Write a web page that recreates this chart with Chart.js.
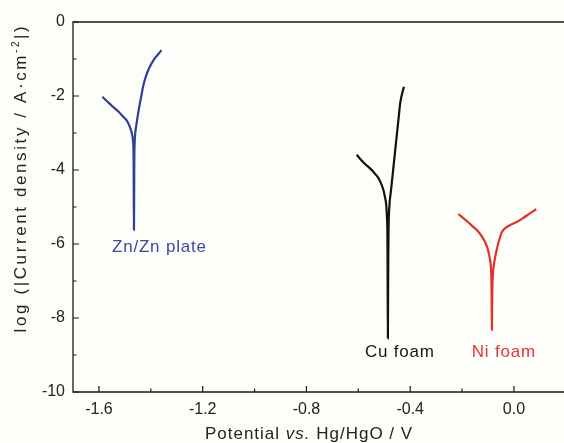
<!DOCTYPE html>
<html>
<head>
<meta charset="utf-8">
<script src="https://cdn.jsdelivr.net/npm/chart.js@4.4.1/dist/chart.umd.min.js"></script>
<style>
  html, body { margin: 0; padding: 0; background: #fdfdf9; }
  #wrap { width: 564px; height: 443px; }
</style>
</head>
<body>
<div id="wrap"><canvas id="tafel"></canvas></div>
<script>
// Tafel curves, potential (V vs Hg/HgO) and log|j|
const znX = [-1.587, -1.575, -1.560, -1.546, -1.525, -1.505, -1.494, -1.484, -1.475, -1.470, -1.467, -1.466, -1.465, -1.464, -1.463, -1.460, -1.455, -1.449, -1.442, -1.436, -1.430, -1.418, -1.404, -1.385, -1.370, -1.359];
const znY = [-2.02, -2.10, -2.20, -2.29, -2.42, -2.57, -2.65, -2.78, -2.96, -3.12, -3.37, -4.20, -5.62, -4.20, -3.40, -3.00, -2.75, -2.47, -2.20, -1.98, -1.75, -1.45, -1.21, -0.98, -0.86, -0.76];

const cuX = [-0.606, -0.590, -0.572, -0.556, -0.542, -0.526, -0.515, -0.505, -0.498, -0.493, -0.490, -0.488, -0.487, -0.486, -0.485, -0.483, -0.479, -0.474, -0.468, -0.462, -0.456, -0.450, -0.444, -0.439, -0.434, -0.429, -0.424];
const cuY = [-3.59, -3.72, -3.85, -3.95, -4.05, -4.18, -4.32, -4.50, -4.70, -4.90, -5.20, -5.60, -7.00, -8.55, -7.00, -5.40, -4.85, -4.55, -4.15, -3.75, -3.35, -2.95, -2.55, -2.22, -2.02, -1.88, -1.75];

const niX = [-0.214, -0.195, -0.175, -0.158, -0.143, -0.128, -0.115, -0.104, -0.096, -0.090, -0.087, -0.086, -0.085, -0.084, -0.082, -0.078, -0.072, -0.064, -0.055, -0.046, -0.030, -0.010, 0.012, 0.035, 0.060, 0.086];
const niY = [-5.19, -5.30, -5.42, -5.53, -5.62, -5.75, -5.90, -6.07, -6.28, -6.52, -6.90, -7.50, -8.32, -7.50, -6.90, -6.60, -6.34, -6.08, -5.85, -5.67, -5.55, -5.47, -5.40, -5.30, -5.18, -5.06];

const seriesNames = ['Zn/Zn plate', 'Cu foam', 'Ni foam'];

// axis ticks
const xMajor = [-1.6, -1.2, -0.8, -0.4, 0.0];
const xMinor = [-1.4, -1.0, -0.6, -0.2];
const yMajor = [0, -2, -4, -6, -8, -10];
const yMinor = [-1, -3, -5, -7, -9];

// where the curve names sit (data units)
const labelAt = [[-1.367, -6.1], [-0.44, -8.92], [-0.039, -8.92]];

const colors = ['#2f3f98', '#111111', '#e2302b'];
const labelColors = ['#3b4a9c', '#161616', '#e4363a'];
const FONT = '"Liberation Sans", Arial, sans-serif';
const TEXT = '#222222';

const toPts = (xs, ys) => xs.map((x, i) => ({ x: x, y: ys[i] }));

// frame, inward ticks, axis titles and curve names
const framePlugin = {
    id: 'frame',
    afterDraw(chart) {
        const { ctx, chartArea: a, scales: { x, y } } = chart;
        ctx.save();
        ctx.strokeStyle = '#1a1a1a';
        ctx.lineWidth = 1.3;
        ctx.beginPath();
        ctx.moveTo(a.right + 2, a.top); ctx.lineTo(a.left, a.top);
        ctx.lineTo(a.left, a.bottom); ctx.lineTo(a.right + 2, a.bottom);
        ctx.stroke();

        ctx.lineWidth = 1.2;
        ctx.beginPath();
        xMajor.concat(xMinor).forEach(v => {
            const px = x.getPixelForValue(v);
            const len = xMajor.includes(v) ? 6 : 3.5;
            ctx.moveTo(px, a.bottom); ctx.lineTo(px, a.bottom - len);
        });
        yMajor.concat(yMinor).forEach(v => {
            const py = y.getPixelForValue(v);
            const len = yMajor.includes(v) ? 6 : 3.5;
            ctx.moveTo(a.left, py); ctx.lineTo(a.left + len, py);
        });
        ctx.stroke();

        // x title with italic "vs."
        ctx.fillStyle = TEXT;
        ctx.textBaseline = 'middle';
        ctx.textAlign = 'left';
        ctx.letterSpacing = '1px';
        const parts = [['Potential ', 'normal'], ['vs.', 'italic'], [' Hg/HgO / V', 'normal']];
        let total = 0;
        parts.forEach(p => { ctx.font = p[1] + ' 17px ' + FONT; total += ctx.measureText(p[0]).width; });
        let cx = x.getPixelForValue(-0.79) - total / 2;
        parts.forEach(p => {
            ctx.font = p[1] + ' 17px ' + FONT;
            ctx.fillText(p[0], cx, 434);
            cx += ctx.measureText(p[0]).width;
        });

        // y title with superscript
        ctx.save();
        ctx.translate(21, 178);
        ctx.rotate(-Math.PI / 2);
        ctx.letterSpacing = '2.6px';
        const main1 = 'log (|Current density / A\u00b7cm';
        const sup = '-2';
        const main2 = '|)';
        ctx.font = '17px ' + FONT;
        const w1 = ctx.measureText(main1).width, w3 = ctx.measureText(main2).width;
        ctx.font = '10px ' + FONT;
        const w2 = ctx.measureText(sup).width;
        let sx = -(w1 + w2 + w3) / 2;
        ctx.font = '17px ' + FONT;
        ctx.fillText(main1, sx, 0); sx += w1;
        ctx.font = '10px ' + FONT;
        ctx.fillText(sup, sx, -5); sx += w2;
        ctx.font = '17px ' + FONT;
        ctx.fillText(main2, sx, 0);
        ctx.restore();

        // curve names
        ctx.font = '17px ' + FONT;
        ctx.letterSpacing = '0.8px';
        ctx.textAlign = 'center';
        seriesNames.forEach((name, i) => {
            ctx.fillStyle = labelColors[i];
            ctx.fillText(name, x.getPixelForValue(labelAt[i][0]), y.getPixelForValue(labelAt[i][1]));
        });
        ctx.restore();
    }
};

const bgPlugin = {
    id: 'bg',
    beforeDraw(chart) {
        const ctx = chart.ctx;
        ctx.save();
        ctx.fillStyle = '#fdfdf9';
        ctx.fillRect(0, 0, chart.width, chart.height);
        ctx.restore();
    }
};

new Chart(document.getElementById('tafel'), {
    type: 'scatter',
    data: {
        datasets: [
            { label: seriesNames[0], data: toPts(znX, znY), borderColor: colors[0], borderWidth: 2.2 },
            { label: seriesNames[1], data: toPts(cuX, cuY), borderColor: colors[1], borderWidth: 2.2 },
            { label: seriesNames[2], data: toPts(niX, niY), borderColor: colors[2], borderWidth: 2.2 }
        ].map(d => Object.assign(d, { showLine: true, pointRadius: 0, tension: 0.25, fill: false }))
    },
    options: {
        responsive: true,
        maintainAspectRatio: false,
        animation: false,
        layout: { padding: { top: 22, right: 0, left: 0, bottom: 0 } },
        plugins: { legend: { display: false }, tooltip: { enabled: false } },
        scales: {
            x: {
                type: 'linear', min: -1.7, max: 0.193,
                afterBuildTicks: s => { s.ticks = xMajor.map(v => ({ value: v })); },
                afterFit: s => { s.height = 51; },
                grid: { display: false, drawTicks: false },
                border: { display: false },
                ticks: {
                    padding: 8, color: TEXT, font: { family: FONT, size: 16 },
                    maxRotation: 0, autoSkip: false,
                    callback: v => v.toFixed(1)
                }
            },
            y: {
                type: 'linear', min: -10, max: 0,
                afterBuildTicks: s => { s.ticks = yMajor.map(v => ({ value: v })); },
                afterFit: s => { s.width = 73; },
                grid: { display: false, drawTicks: false },
                border: { display: false },
                ticks: {
                    padding: 8, color: TEXT, font: { family: FONT, size: 16 },
                    autoSkip: false,
                    callback: v => String(v)
                }
            }
        }
    },
    plugins: [bgPlugin, framePlugin]
});
</script>
</body>
</html>
